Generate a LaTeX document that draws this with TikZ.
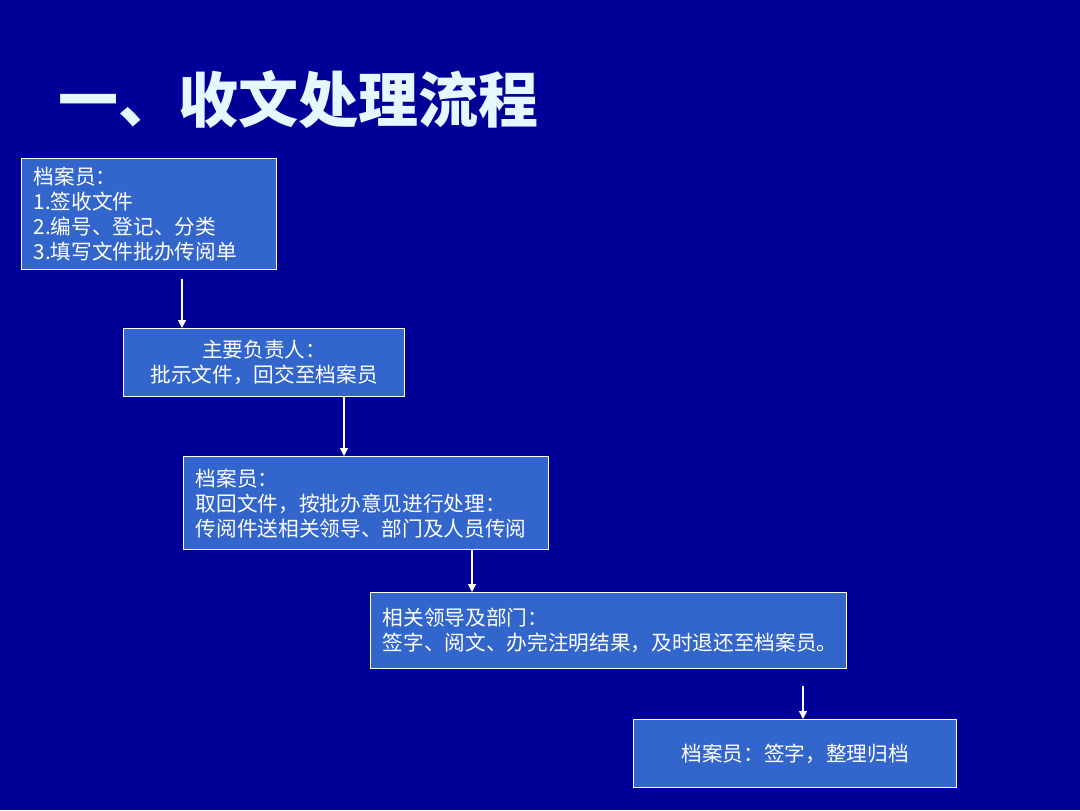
\documentclass[tikz,border=0pt]{standalone}
\usepackage{fontspec}
\setmainfont{Noto Sans CJK SC}
\usepackage{xcolor}
\usetikzlibrary{arrows.meta,positioning}
\definecolor{slidebg}{HTML}{000099}
\definecolor{boxfill}{HTML}{3366CC}
\definecolor{titlecol}{HTML}{E6F8FF}

\begin{document}
\begin{tikzpicture}[
  x=0.75pt,y=-0.75pt,
  box/.style={draw=white,line width=1pt,fill=boxfill,text=white,anchor=north west,inner ysep=0pt,font=\fontsize{15.5pt}{18.75pt}\selectfont},
  lbox/.style={box,align=left,inner xsep=9pt},
  cbox/.style={box,align=center},
  arr/.style={-{Triangle[length=6pt,width=6pt]},white,line width=1pt}
]
  \fill[slidebg] (0,0) rectangle (1080,810);
  \node[anchor=west,inner sep=0pt,text=titlecol,font=\fontsize{45pt}{54pt}\bfseries\selectfont] (title) at (58,100) {一、收文处理流程};
  % flow boxes
  \node[lbox,minimum width=191.25pt,minimum height=83.25pt,text width=173.25pt] (clerkA) at (21,158) {档案员：\\1.签收文件\\2.编号、登记、分类\\3.填写文件批办传阅单};
  \node[cbox,minimum width=210.75pt,minimum height=51pt] (head) at (123,328) {主要负责人：\\批示文件，回交至档案员};
  \node[lbox,minimum width=273.75pt,minimum height=69.75pt,text width=255.75pt] (clerkB) at (183,456) {档案员：\\取回文件，按批办意见进行处理：\\传阅件送相关领导、部门及人员传阅};
  \node[lbox,minimum width=357pt,minimum height=57pt,text width=339pt] (leaders) at (370,592) {相关领导及部门：\\签字、阅文、办完注明结果，及时退还至档案员。};
  \node[cbox,minimum width=242.25pt,minimum height=51pt] (clerkC) at (633,719) {档案员：签字，整理归档};
  % arrows
  \draw[arr] ([xshift=120.75pt,yshift=-6.75pt]clerkA.south west) -- ([xshift=44.25pt]head.north west);
  \draw[arr] ([xshift=165.75pt]head.south west) -- ([xshift=120.75pt]clerkB.north west);
  \draw[arr] ([xshift=216.75pt]clerkB.south west) -- ([xshift=76.5pt]leaders.north west);
  \draw[arr] ([xshift=324.75pt,yshift=-12.75pt]leaders.south west) -- ([xshift=127.5pt]clerkC.north west);
\end{tikzpicture}
\end{document}
